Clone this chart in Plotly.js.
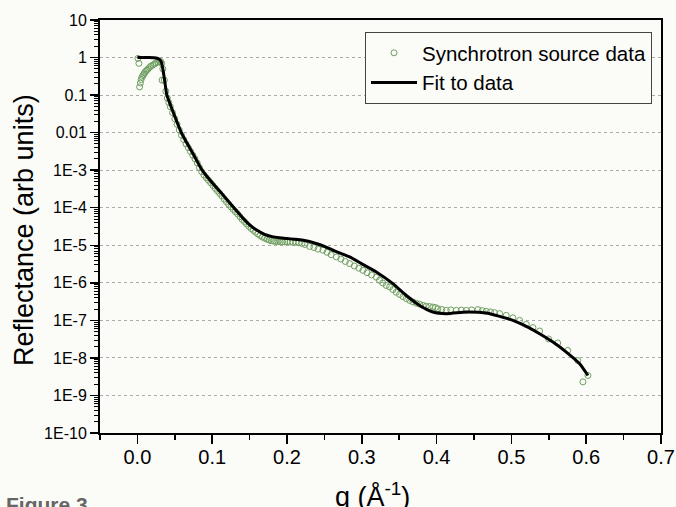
<!DOCTYPE html>
<html>
<head>
<meta charset="utf-8">
<script src="https://cdn.plot.ly/plotly-3.0.1.min.js"></script>
<style>
  html, body { margin: 0; padding: 0; background: #fbfbf8; }
  #chart { width: 676px; height: 507px; }
</style>
</head>
<body>
<div id="chart"></div>
<script>
// ---- Measured data (Synchrotron source data) ----
const dataQ = [
  0.0007, 0.002, 0.003, 0.004, 0.005, 0.006, 0.0074, 0.0085, 0.0096, 0.011,
  0.0125, 0.014, 0.016, 0.018, 0.0207, 0.023, 0.025, 0.0274, 0.0295, 0.031,
  0.0325, 0.033, 0.034, 0.036, 0.038, 0.040, 0.042, 0.044, 0.047, 0.050,
  0.053, 0.056, 0.059, 0.062, 0.065, 0.068, 0.071, 0.074, 0.077, 0.080,
  0.083, 0.086, 0.089, 0.092, 0.095, 0.098, 0.101, 0.104, 0.107, 0.110,
  0.113, 0.116, 0.119, 0.122, 0.125, 0.128, 0.131, 0.134, 0.137, 0.140,
  0.143, 0.146, 0.149, 0.152, 0.155, 0.158, 0.161, 0.164, 0.167, 0.170,
  0.173, 0.176, 0.179, 0.182, 0.185, 0.188, 0.191, 0.194, 0.197, 0.200,
  0.204, 0.208, 0.212, 0.216, 0.220, 0.224, 0.2303, 0.236, 0.2415, 0.248,
  0.2535, 0.259, 0.266, 0.272, 0.278, 0.2837, 0.290, 0.296, 0.3015, 0.307,
  0.313, 0.3194, 0.3237, 0.328, 0.3327, 0.3372, 0.3416, 0.346, 0.3505, 0.355,
  0.3595, 0.364, 0.3684, 0.373, 0.3773, 0.382, 0.386, 0.3906, 0.395, 0.3985,
  0.4017, 0.407, 0.413, 0.419, 0.4263, 0.433, 0.4397, 0.447, 0.4553, 0.461,
  0.4664, 0.472, 0.4775, 0.4842, 0.4931, 0.502, 0.511, 0.5199, 0.5288, 0.5377,
  0.5497, 0.5619, 0.5753, 0.5887, 0.5956, 0.6023
];
const dataR = [
  0.95, 0.70, 0.165, 0.21, 0.26, 0.30, 0.33, 0.36, 0.39, 0.43,
  0.46, 0.49, 0.54, 0.59, 0.63, 0.68, 0.72, 0.77, 0.80, 0.78,
  0.70, 0.25, 0.50, 0.25, 0.126, 0.083, 0.063, 0.049, 0.034, 0.0234,
  0.0166, 0.0117, 8.5e-3, 6.5e-3, 5.0e-3, 4.0e-3, 3.16e-3, 2.5e-3, 2.0e-3, 1.55e-3,
  1.17e-3, 9.1e-4, 7.4e-4, 6.3e-4, 5.4e-4, 4.6e-4, 3.9e-4, 3.3e-4, 2.8e-4, 2.4e-4,
  2.04e-4, 1.7e-4, 1.45e-4, 1.23e-4, 1.05e-4, 9.1e-5, 7.8e-5, 6.8e-5, 5.75e-5, 4.9e-5,
  4.3e-5, 3.7e-5, 3.2e-5, 2.8e-5, 2.5e-5, 2.24e-5, 2.0e-5, 1.82e-5, 1.66e-5, 1.55e-5,
  1.45e-5, 1.38e-5, 1.32e-5, 1.29e-5, 1.26e-5, 1.26e-5, 1.23e-5, 1.23e-5, 1.23e-5, 1.23e-5,
  1.22e-5, 1.2e-5, 1.2e-5, 1.17e-5, 1.12e-5, 1.05e-5, 9.3e-6, 8.7e-6, 7.9e-6, 7.4e-6,
  6.5e-6, 5.6e-6, 4.9e-6, 4.3e-6, 3.7e-6, 3.24e-6, 2.8e-6, 2.45e-6, 2.15e-6, 1.86e-6,
  1.62e-6, 1.41e-6, 1.17e-6, 9.9e-7, 8.5e-7, 7.8e-7, 6.6e-7, 5.6e-7, 4.9e-7, 4.3e-7,
  3.8e-7, 3.4e-7, 3.1e-7, 2.85e-7, 2.7e-7, 2.5e-7, 2.38e-7, 2.34e-7, 2.26e-7, 2.2e-7,
  2.04e-7, 1.95e-7, 1.85e-7, 1.9e-7, 1.85e-7, 1.88e-7, 1.85e-7, 1.9e-7, 1.93e-7, 1.82e-7,
  1.74e-7, 1.68e-7, 1.6e-7, 1.51e-7, 1.36e-7, 1.17e-7, 1.0e-7, 7.8e-8, 6.4e-8, 5.2e-8,
  3.2e-8, 2.5e-8, 1.58e-8, 8.5e-9, 2.3e-9, 3.4e-9
];

// ---- Fit curve ----
const fitQ = [
  0.000, 0.015, 0.025, 0.029, 0.032, 0.034, 0.036, 0.0394, 0.043, 0.0497,
  0.0587, 0.0654, 0.0742, 0.0865, 0.100, 0.1143, 0.129, 0.140, 0.150, 0.160,
  0.170, 0.180, 0.190, 0.200, 0.210, 0.220, 0.230, 0.240, 0.250, 0.260,
  0.270, 0.2837, 0.300, 0.3194, 0.3416, 0.3595, 0.3773, 0.3951, 0.413, 0.4397,
  0.4664, 0.4842, 0.502, 0.520, 0.5377, 0.5555, 0.5734, 0.5912, 0.6023
];
const fitR = [
  1.0, 1.0, 0.977, 0.91, 0.76, 0.50, 0.28, 0.10, 0.063, 0.028,
  0.010, 5.6e-3, 2.8e-3, 1.0e-3, 4.6e-4, 2.2e-4, 1.0e-4, 5.6e-5, 3.5e-5, 2.5e-5,
  1.95e-5, 1.7e-5, 1.58e-5, 1.51e-5, 1.45e-5, 1.38e-5, 1.26e-5, 1.1e-5, 9.3e-6, 7.6e-6,
  6.3e-6, 4.9e-6, 3.2e-6, 1.95e-6, 9.5e-7, 4.6e-7, 2.5e-7, 1.67e-7, 1.51e-7, 1.67e-7,
  1.57e-7, 1.28e-7, 1.0e-7, 6.9e-8, 4.4e-8, 2.64e-8, 1.43e-8, 7.0e-9, 3.4e-9
];

// ---- Axis tick labels ----
const yTickVals = [1e1, 1e0, 1e-1, 1e-2, 1e-3, 1e-4, 1e-5, 1e-6, 1e-7, 1e-8, 1e-9, 1e-10];
const yTickText = ["10", "1", "0.1", "0.01", "1E-3", "1E-4", "1E-5", "1E-6", "1E-7", "1E-8", "1E-9", "1E-10"];
const seriesNames = ["Synchrotron source data", "Fit to data"];

const yMinor = [];
for (let e = -10; e < 1; e++) {
  for (let m = 2; m <= 9; m++) yMinor.push(m * Math.pow(10, e));
}

const FONT = "Liberation Sans, Arial, Helvetica, sans-serif";
const BG = "#fbfbf8";

// pixel -> paper helpers (plot area: x 100..661, y 20..433)
const px = (p) => (p - 100) / 561;
const py = (p) => (433 - p) / 413;

const traces = [
  {
    x: dataQ, y: dataR, type: "scatter", mode: "markers", name: seriesNames[0],
    marker: { symbol: "circle-open", size: 6, color: "#6f9f60", line: { width: 1, color: "#6f9f60" } }
  },
  {
    x: fitQ, y: fitR, type: "scatter", mode: "lines", name: seriesNames[1],
    line: { color: "#000000", width: 3, shape: "spline", smoothing: 0.6 }
  }
];

const layout = {
  width: 676, height: 507,
  margin: { l: 100, r: 15, t: 20, b: 74 },
  paper_bgcolor: BG, plot_bgcolor: BG,
  font: { family: FONT, color: "#000" },
  showlegend: true,
  legend: {
    x: px(652), y: py(32), xanchor: "right", yanchor: "top",
    bgcolor: BG, bordercolor: "#444", borderwidth: 1,
    font: { family: FONT, size: 20.5, color: "#000" },
    itemwidth: 46, tracegroupgap: 0
  },
  xaxis: {
    range: [-0.05, 0.7], tickmode: "linear", tick0: 0, dtick: 0.1, tickformat: ".1f",
    showline: true, linecolor: "#000", linewidth: 2, mirror: true,
    ticks: "outside", ticklen: 9, tickwidth: 1.5, tickcolor: "#000",
    ticklabelstandoff: -4,
    minor: { ticks: "outside", dtick: 0.05, tick0: 0, ticklen: 5, tickwidth: 1.5, tickcolor: "#000", showgrid: false },
    showgrid: false, zeroline: false,
    tickfont: { family: FONT, size: 20, color: "#000" }
  },
  yaxis: {
    type: "log", range: [-10, 1],
    tickmode: "array", tickvals: yTickVals, ticktext: yTickText,
    showline: true, linecolor: "#000", linewidth: 2, mirror: true,
    ticks: "outside", ticklen: 8, tickwidth: 1.5, tickcolor: "#000",
    minor: { tickmode: "array", tickvals: yMinor, ticks: "outside", ticklen: 4, tickwidth: 1, tickcolor: "#000", showgrid: false },
    showgrid: true, gridcolor: "#ababab", griddash: "dot", gridwidth: 1,
    zeroline: false,
    tickfont: { family: FONT, size: 16, color: "#000" }
  },
  annotations: [
    {
      text: "Reflectance (arb units)", xref: "paper", yref: "paper",
      x: px(24), y: py(230), xanchor: "center", yanchor: "middle",
      textangle: -90, showarrow: false,
      font: { family: FONT, size: 27, color: "#000" }
    },
    {
      text: "q (Å<sup>-1</sup>)", xref: "paper", yref: "paper",
      x: px(372), y: py(495), xanchor: "center", yanchor: "middle",
      showarrow: false,
      font: { family: FONT, size: 27, color: "#000" }
    },
    {
      text: "<b>Figure 3</b>", xref: "paper", yref: "paper",
      x: px(4), y: py(491), xanchor: "left", yanchor: "top",
      showarrow: false,
      font: { family: FONT, size: 21, color: "#666" }
    }
  ]
};

Plotly.newPlot("chart", traces, layout, { displayModeBar: false, staticPlot: true });
</script>
</body>
</html>
